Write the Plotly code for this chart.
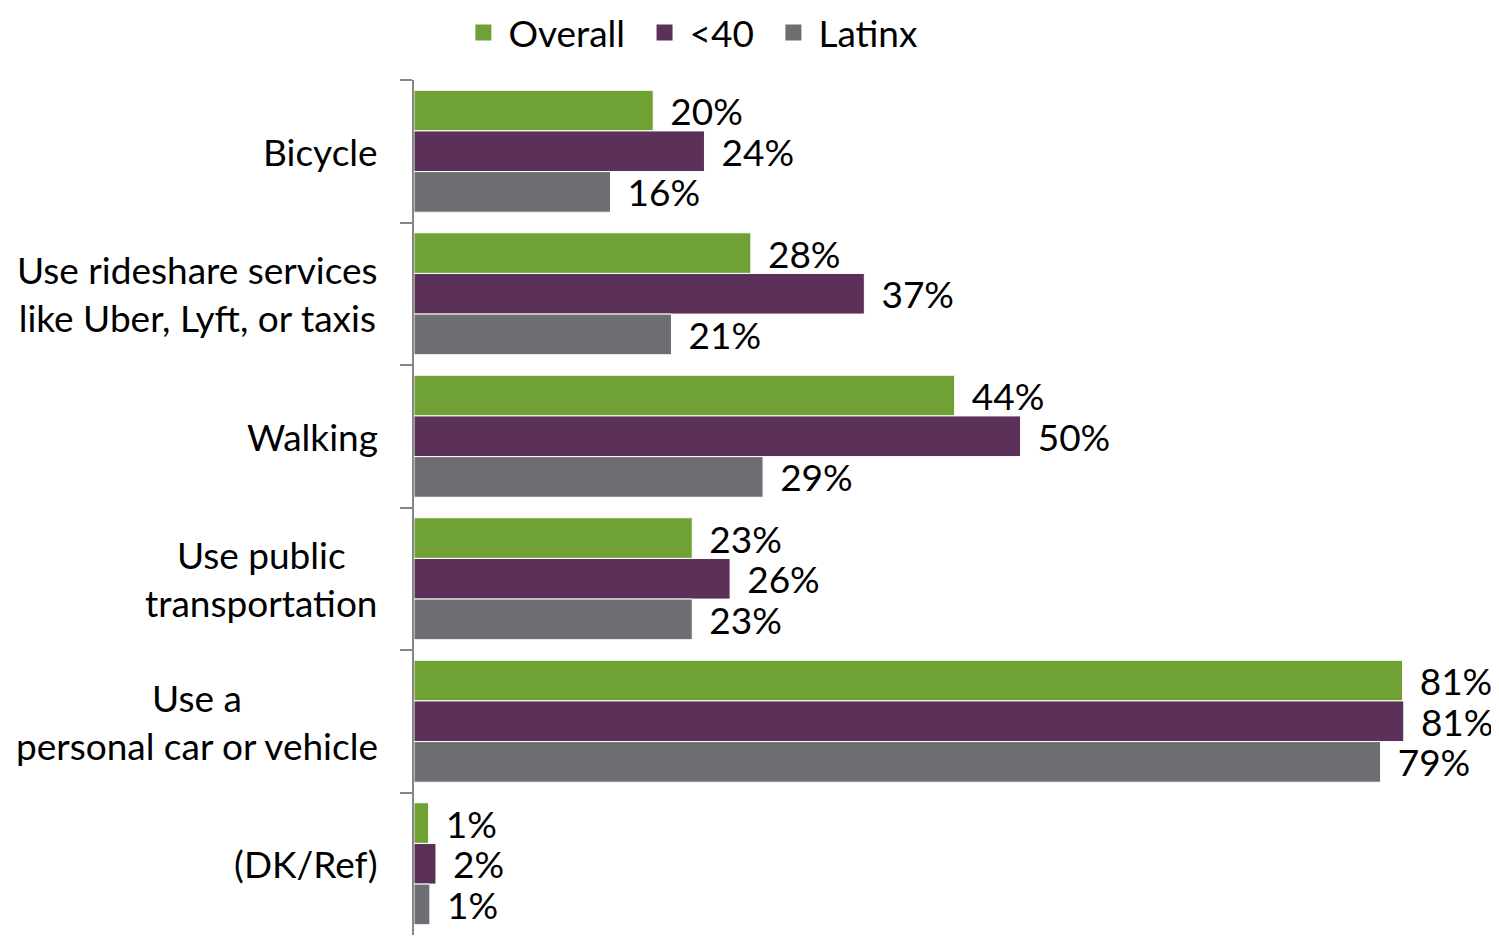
import plotly.graph_objects as go

categories = ['Bicycle', 'Use rideshare services<br>like Uber, Lyft, or taxis', 'Walking',
              'Use public<br>transportation', 'Use a<br>personal car or vehicle', '(DK/Ref)']
overall = [19.6, 27.6, 44.3, 22.8, 81.0, 1.2]
under40 = [23.8, 36.9, 49.7, 25.9, 81.1, 1.8]
latinx = [16.1, 21.1, 28.6, 22.8, 79.2, 1.3]

series = [('Overall', overall, '#6fa134'),
          ('<40', under40, '#5c3159'),
          ('Latinx', latinx, '#6d6e71')]

FONT = 'Lato'
SIZE = 37
fig = go.Figure()

for name, vals, color in series:
    fig.add_trace(go.Bar(
        x=vals, y=categories, orientation='h', name=name,
        marker=dict(color=color, line=dict(color='white', width=1)),
        texttemplate='\u00a0\u2009%{x:.0f}%', textposition='outside',
        textfont=dict(size=SIZE, color='black', family=FONT),
        constraintext='none', cliponaxis=False, showlegend=False,
    ))
    # legend entry with a bigger square
    fig.add_trace(go.Scatter(
        x=[None], y=[None], mode='markers', name=name + '\u00a0',
        marker=dict(symbol='square', size=22, color=color),
    ))

# category labels, centered multi-line blocks right-aligned to the axis
for c in categories:
    fig.add_annotation(x=0, xref='paper', y=c, yref='y', text=c, showarrow=False,
                       xanchor='right', align='center', xshift=-34,
                       font=dict(size=SIZE, color='black', family=FONT))

# page body has an 8px margin, so the figure is offset accordingly
fig.update_layout(
    width=1491, height=928,
    margin=dict(l=406, r=11, t=72, b=1, autoexpand=False),
    paper_bgcolor='white', plot_bgcolor='white',
    barmode='group', bargap=0.144, bargroupgap=0,
    font=dict(family=FONT, size=SIZE, color='black'),
    legend=dict(orientation='h', x=0.262, xanchor='center',
                y=1 + 78 / 855, yanchor='top',
                font=dict(size=SIZE, family=FONT), itemwidth=40, tracegroupgap=0),
    xaxis=dict(range=[0, 88], visible=False),
    yaxis=dict(autorange='reversed', showticklabels=False, showline=True,
               linecolor='#868686', linewidth=2, ticks='outside', ticklen=12,
               tickcolor='#868686', tickwidth=2, tickson='boundaries', showgrid=False,
               automargin=False),
)

fig.write_html('out.html')
